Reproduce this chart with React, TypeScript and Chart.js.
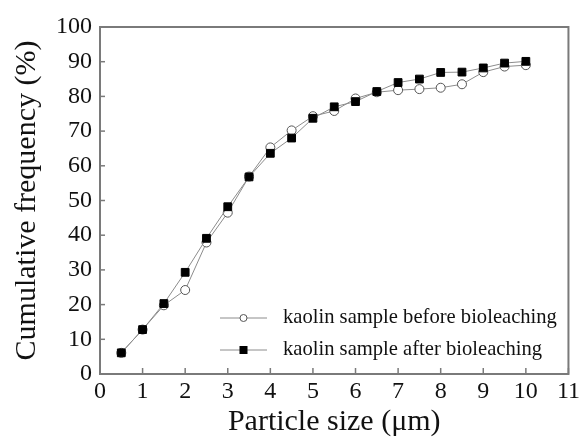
import React, { useEffect, useRef } from 'react';
import { Chart, registerables } from 'chart.js';

Chart.register(...registerables);

const particleSizes = [0.5, 1, 1.5, 2, 2.5, 3, 3.5, 4, 4.5, 5, 5.5, 6, 6.5, 7, 7.5, 8, 8.5, 9, 9.5, 10];
const beforeValues = [6.1, 12.8, 19.8, 24.2, 37.9, 46.5, 56.9, 65.3, 70.2, 74.3, 75.8, 79.4, 81.2, 81.8, 82.1, 82.5, 83.5, 87.0, 88.6, 89.0];
const afterValues = [6.1, 12.8, 20.3, 29.3, 39.1, 48.2, 56.8, 63.6, 68.0, 73.7, 77.0, 78.5, 81.4, 84.0, 85.0, 86.9, 87.0, 88.2, 89.6, 90.1];
const seriesLabels = ['kaolin sample before bioleaching', 'kaolin sample after bioleaching'];
const xTitle = 'Particle size (\u03bcm)';
const yTitle = 'Cumulative frequency (%)';

const FONT = "'Liberation Serif', 'Times New Roman', serif";
const AXIS = '#7a7a7a';
const LINE = '#8c8c8c';

const framePlugin = {
  id: 'frame',
  beforeDatasetsDraw(chart: any) {
    const { ctx, chartArea: a, scales } = chart;
    ctx.save();
    ctx.strokeStyle = AXIS;
    ctx.lineWidth = 1.5;
    scales.x.ticks.forEach((t: any) => {
      const px = scales.x.getPixelForValue(t.value);
      ctx.beginPath();
      ctx.moveTo(px, a.bottom);
      ctx.lineTo(px, a.bottom - 6);
      ctx.stroke();
    });
    scales.y.ticks.forEach((t: any) => {
      const py = scales.y.getPixelForValue(t.value);
      ctx.beginPath();
      ctx.moveTo(a.left, py);
      ctx.lineTo(a.left + 5, py);
      ctx.stroke();
    });
    ctx.lineWidth = 2;
    ctx.strokeRect(a.left, a.top, a.right - a.left, a.bottom - a.top);
    ctx.restore();
  },
};

const legendPlugin = {
  id: 'innerLegend',
  afterDatasetsDraw(chart: any) {
    const { ctx, chartArea: a } = chart;
    const order = [0, 1];
    ctx.save();
    order.forEach((i, row) => {
      const ds = chart.data.datasets[i];
      const y = a.bottom - 56 + row * 32;
      const x0 = a.left + 120;
      const x1 = a.left + 167;
      const xm = (x0 + x1) / 2;
      ctx.strokeStyle = LINE;
      ctx.lineWidth = 1;
      ctx.beginPath();
      ctx.moveTo(x0, y);
      ctx.lineTo(x1, y);
      ctx.stroke();
      ctx.fillStyle = ds.pointBackgroundColor;
      ctx.strokeStyle = ds.pointBorderColor;
      ctx.lineWidth = 1;
      if (ds.pointStyle === 'rect') {
        ctx.fillRect(xm - 3.5, y - 3.5, 7, 7);
        ctx.strokeRect(xm - 3.5, y - 3.5, 7, 7);
      } else {
        ctx.beginPath();
        ctx.arc(xm, y, 3.5, 0, Math.PI * 2);
        ctx.fill();
        ctx.stroke();
      }
      ctx.fillStyle = '#111';
      ctx.font = `20.6px ${FONT}`;
      ctx.textBaseline = 'middle';
      ctx.textAlign = 'left';
      ctx.fillText(ds.label, a.left + 183, y);
    });
    ctx.restore();
  },
};

export default function App() {
  const ref = useRef<HTMLCanvasElement | null>(null);

  useEffect(() => {
    document.body.style.margin = '0';
    if (!ref.current) return;
    const chart = new Chart(ref.current, {
      type: 'line',
      data: {
        datasets: [
          {
            label: seriesLabels[0],
            data: particleSizes.map((x, i) => ({ x, y: beforeValues[i] })),
            borderColor: LINE,
            borderWidth: 1,
            pointStyle: 'circle',
            pointRadius: 4.5,
            pointBackgroundColor: '#ffffff',
            pointBorderColor: '#555555',
            pointBorderWidth: 1,
            order: 1,
          },
          {
            label: seriesLabels[1],
            data: particleSizes.map((x, i) => ({ x, y: afterValues[i] })),
            borderColor: LINE,
            borderWidth: 1,
            pointStyle: 'rect',
            pointRadius: 5.5,
            pointBackgroundColor: '#000000',
            pointBorderColor: '#000000',
            pointBorderWidth: 1,
            order: 0,
          },
        ],
      },
      options: {
        animation: false,
        responsive: true,
        maintainAspectRatio: false,
        layout: { padding: { top: 27, right: 13, left: 0, bottom: 0 } },
        plugins: { legend: { display: false }, tooltip: { enabled: false } },
        scales: {
          x: {
            type: 'linear',
            min: 0,
            max: 11,
            grid: { display: false, drawTicks: false },
            border: { display: false },
            ticks: { stepSize: 1, font: { family: FONT, size: 24 }, color: '#111', padding: 3 },
            title: {
              display: true,
              text: xTitle,
              font: { family: FONT, size: 30 },
              color: '#111',
              padding: { top: 0, bottom: 1 },
            },
            afterFit: (s: any) => {
              s.height = 67;
            },
          },
          y: {
            min: 0,
            max: 100,
            grid: { display: false, drawTicks: false },
            border: { display: false },
            ticks: { stepSize: 10, font: { family: FONT, size: 24 }, color: '#111', padding: 8 },
            title: {
              display: true,
              text: yTitle,
              font: { family: FONT, size: 30 },
              color: '#111',
              padding: { top: 9, bottom: 0 },
            },
            afterFit: (s: any) => {
              s.width = 100;
            },
          },
        },
      },
      plugins: [framePlugin, legendPlugin],
    });
    return () => chart.destroy();
  }, []);

  return (
    <div style={{ width: 583, height: 441, position: 'relative', background: '#fff' }}>
      <canvas ref={ref} />
    </div>
  );
}
